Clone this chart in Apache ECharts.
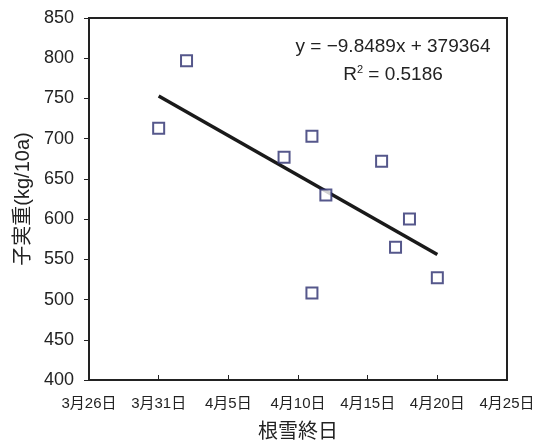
<!DOCTYPE html>
<html>
<head>
<meta charset="utf-8">
<script src="https://cdn.jsdelivr.net/npm/echarts@6/dist/echarts.min.js"></script>
<style>
  html, body { margin: 0; padding: 0; background: #fff; }
  #chart { width: 539px; height: 442px; }
</style>
</head>
<body>
<div id="chart"></div>
<script>
// 根雪終日 と 子実重
var dates = ['3/31', '4/2', '4/9', '4/11', '4/11', '4/12', '4/16', '4/17', '4/18', '4/20'];
var yields = [713, 797, 677, 703, 508, 630, 672, 565, 600, 527];
// 近似直線の端点
var trendDates = ['3/31', '4/20'];
var trendValues = [753, 556];
var xTickLabels = ['3月26日', '3月31日', '4月5日', '4月10日', '4月15日', '4月20日', '4月25日'];

// 3月26日を0とした日数
function dayNum(s) {
    var p = s.split('/');
    var m = +p[0], d = +p[1];
    return m === 3 ? d - 26 : 5 + d;
}

var fontLatin = '"Liberation Sans", Arial, "Noto Sans CJK JP", sans-serif';

var myChart = echarts.init(document.getElementById('chart'));
var option = {
    animation: false,
    grid: {
        left: 89, right: 32, top: 18, bottom: 62,
        outerBoundsMode: 'none',
        containLabel: false,
        show: true,
        borderColor: '#222',
        borderWidth: 2
    },
    xAxis: {
        type: 'value',
        min: 0, max: 30, interval: 5,
        name: '根雪終日',
        nameLocation: 'middle',
        nameGap: 40,
        nameTextStyle: { fontSize: 20, color: '#222', fontFamily: '"Noto Sans CJK JP", sans-serif' },
        axisLine: { show: false },
        axisTick: { inside: true, length: 5, lineStyle: { color: '#222', width: 1 } },
        splitLine: { show: false },
        axisLabel: {
            margin: 16,
            fontSize: 15,
            color: '#222',
            fontFamily: fontLatin,
            formatter: function (v) { return xTickLabels[Math.round(v / 5)]; }
        }
    },
    yAxis: {
        type: 'value',
        min: 400, max: 850, interval: 50,
        name: '子実重(kg/10a)',
        nameLocation: 'middle',
        nameGap: 55,
        nameRotate: 90,
        nameTextStyle: { fontSize: 20, color: '#222', fontFamily: fontLatin },
        axisLine: { show: false },
        axisTick: { show: true, inside: false, length: 5, lineStyle: { color: '#222', width: 1 } },
        splitLine: { show: false },
        axisLabel: { margin: 15, fontSize: 18, color: '#222', fontFamily: fontLatin }
    },
    graphic: [
        {
            type: 'text', x: 393, y: 47,
            style: { text: 'y = \u22129.8489x + 379364', fontSize: 19, fill: '#222', fontFamily: fontLatin, align: 'center', verticalAlign: 'middle' }
        },
        {
            type: 'text', x: 393, y: 75,
            style: {
                text: '{a|R}{s|2}{a| = 0.5186}',
                align: 'center', verticalAlign: 'middle',
                rich: {
                    a: { fontSize: 19, fill: '#222', fontFamily: fontLatin },
                    s: { fontSize: 11, fill: '#222', fontFamily: fontLatin, verticalAlign: 'top', padding: [0, 0, 10, 0] }
                }
            }
        }
    ],
    series: [
        {
            type: 'line',
            data: trendDates.map(function (d, i) { return [dayNum(d), trendValues[i]]; }),
            symbol: 'none',
            lineStyle: { color: '#1a1a1a', width: 3.5 },
            z: 2
        },
        {
            type: 'scatter',
            data: dates.map(function (d, i) { return [dayNum(d), yields[i]]; }),
            symbol: 'rect',
            symbolSize: 11,
            itemStyle: { color: '#fff', borderColor: '#2b2d6e', borderWidth: 2 },
            z: 3
        }
    ]
};
myChart.setOption(option);
window.addEventListener('resize', function () {
    myChart.resize();
});
</script>
</body>
</html>
